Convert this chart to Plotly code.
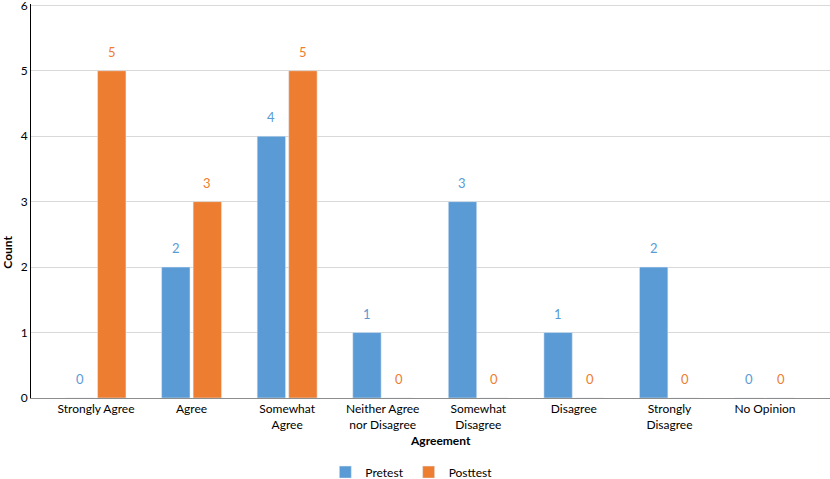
import plotly.graph_objects as go

categories = ["Strongly Agree", "Agree", "Somewhat<br>Agree", "Neither Agree<br>nor Disagree",
              "Somewhat<br>Disagree", "Disagree", "Strongly<br>Disagree", "No Opinion"]
pretest = [0, 2, 4, 1, 3, 1, 2, 0]
posttest = [5, 3, 5, 0, 0, 0, 0, 0]

blue = "#5b9bd5"
orange = "#ed7d31"
font_name = "Lato, Carlito, Calibri, sans-serif"

fig = go.Figure()
fig.add_trace(go.Bar(name="Pretest", x=categories, y=pretest, marker_color=blue))
fig.add_trace(go.Bar(name="Posttest", x=categories, y=posttest, marker_color=orange))

# value labels above each bar (shifted left/right to sit over the grouped bars)
for vals, color, shift in [(pretest, blue, -15.8), (posttest, orange, 15.8)]:
    for cat, v in zip(categories, vals):
        fig.add_annotation(x=cat, y=v, xref="x", yref="y", text=str(v), showarrow=False,
                           xshift=shift, yshift=19, xanchor="center", yanchor="middle",
                           font=dict(family=font_name, size=13, color=color))

# axis titles
fig.add_annotation(x=-0.029, y=0.371, xref="paper", yref="paper", text="<b>Count</b>",
                   showarrow=False, textangle=-90, xanchor="center", yanchor="middle",
                   font=dict(family=font_name, size=12, color="black"))
fig.add_annotation(x=0.513, y=-0.109, xref="paper", yref="paper", text="<b>Agreement</b>",
                   showarrow=False, xanchor="center", yanchor="middle",
                   font=dict(family=font_name, size=12, color="black"))

fig.update_layout(
    width=830, height=479,
    margin=dict(l=31, r=0, t=4, b=81, autoexpand=False),
    plot_bgcolor="white", paper_bgcolor="white",
    barmode="group", bargap=0.34, bargroupgap=0.1,
    font=dict(family=font_name, size=12, color="black"),
    legend=dict(orientation="h", x=0.476, xanchor="center", y=-0.188, yanchor="middle",
                font=dict(size=12), itemwidth=30),
    xaxis=dict(range=[-0.68, 7.68], showline=True, linecolor="#8c8c8c", linewidth=1,
               ticks="", tickfont=dict(size=12), showgrid=False, automargin=False),
    yaxis=dict(range=[0, 6.02], dtick=1, showline=True, linecolor="black", linewidth=1,
               gridcolor="#d9d9d9", zeroline=False, ticks="", tickfont=dict(size=12),
               ticklabeloverflow="allow", automargin=False),
)

# drop the default page margin so the figure sits at the window's corner
fig.write_html("out.html", config={"displayModeBar": False},
               post_script="document.body.style.margin = '0';")
